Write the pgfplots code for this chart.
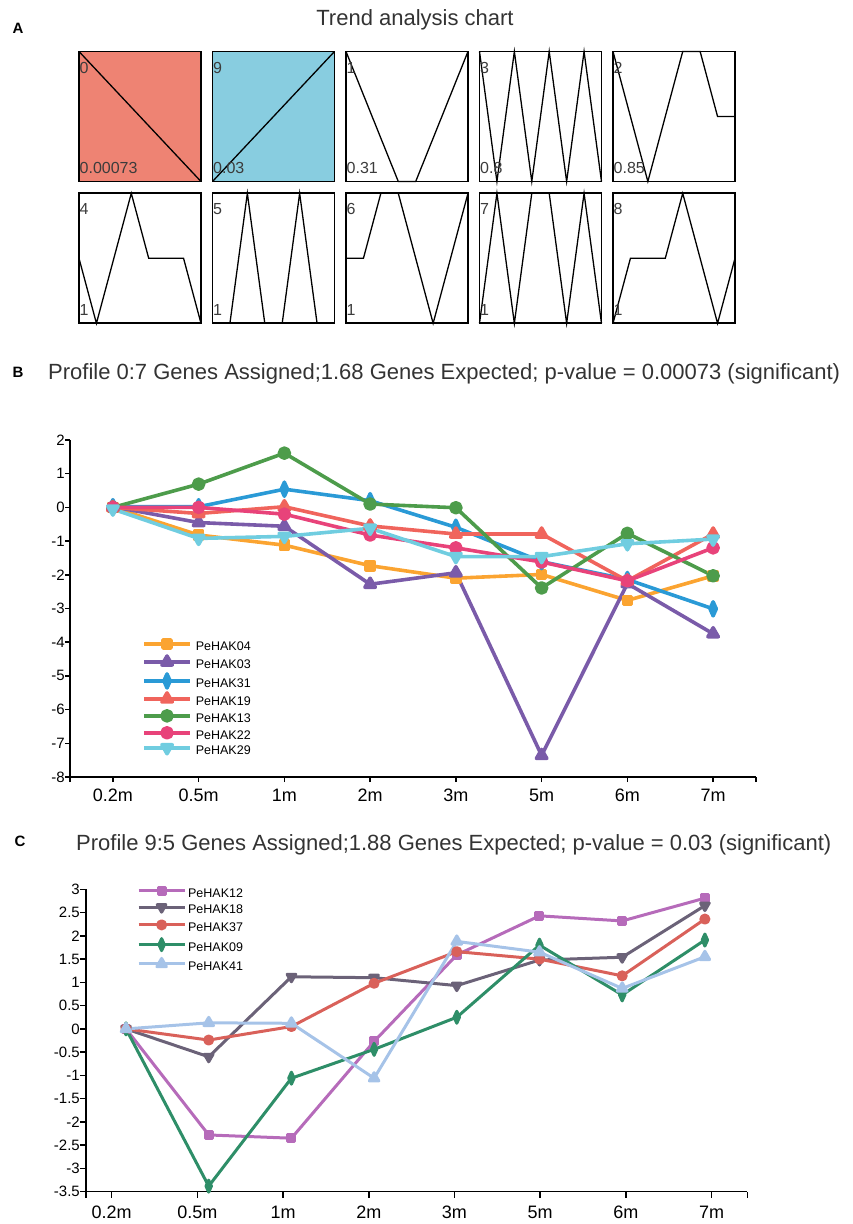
\documentclass[border=0pt]{standalone}
\usepackage{fontspec}
\setmainfont{Liberation Sans}
\usepackage{pgfplots}
\pgfplotsset{compat=1.18}

\definecolor{prof0}{HTML}{EE8373}
\definecolor{prof9}{HTML}{88CDE0}
\definecolor{txtgray}{HTML}{3C3C3C}
\definecolor{titlegray}{HTML}{333333}
\definecolor{cA}{HTML}{FBA431}
\definecolor{cB}{HTML}{7A5BA9}
\definecolor{cC}{HTML}{2A9AD6}
\definecolor{cD}{HTML}{F0645C}
\definecolor{cE}{HTML}{4D9C4B}
\definecolor{cF}{HTML}{E8437A}
\definecolor{cG}{HTML}{70CDE0}
\definecolor{dA}{HTML}{B66BBA}
\definecolor{dB}{HTML}{6B6278}
\definecolor{dC}{HTML}{D9615A}
\definecolor{dD}{HTML}{2E8E68}
\definecolor{dE}{HTML}{A6C3E8}

\pgfplotsset{
  trendax/.style={scale only axis, width=122pt, height=130pt, anchor=south west,
    xmin=0, xmax=7, xtick=\empty, ytick=\empty,
    axis line style={line width=1.8pt}, clip=false},
}

\newcommand{\trend}[8]{%
\begin{axis}[trendax, at={(#1pt,-#2pt)}, axis background/.style={fill=#3}, ymin=#4, ymax=#5]
\addplot[black, line width=1.3pt, mark=none] coordinates {#6};
\node[anchor=west, font=\fontsize{16}{16}\selectfont, text=txtgray, inner sep=0.5pt] at ([yshift=-16pt]rel axis cs:0,1) {#7};
\node[anchor=west, font=\fontsize{16}{16}\selectfont, text=txtgray, inner sep=0.5pt] at ([yshift=13.5pt]rel axis cs:0,0) {#8};
\end{axis}}

\begin{document}
\begin{tikzpicture}
\path[use as bounding box] (0,0) rectangle (853pt,-1224pt);

% ---------------- Panel A ----------------
\node[font=\bfseries\fontsize{15}{15}\selectfont] at (18pt,-28pt) {A};
\node[font=\fontsize{22}{22}\selectfont, text=titlegray] at (415pt,-20pt) {Trend analysis chart};

\trend{79}{181.5}{prof0}{-7}{0}{(0,0)(1,-1)(2,-2)(3,-3)(4,-4)(5,-5)(6,-6)(7,-7)}{0}{0.00073}
\trend{212.5}{181.5}{prof9}{0}{7}{(0,0)(1,1)(2,2)(3,3)(4,4)(5,5)(6,6)(7,7)}{9}{0.03}
\trend{346}{181.5}{white}{-3}{0}{(0,0)(1,-1)(2,-2)(3,-3)(4,-3)(5,-2)(6,-1)(7,0)}{1}{0.31}
\trend{479.5}{181.5}{white}{-1}{0}{(0,0)(1,-1)(2,0)(3,-1)(4,0)(5,-1)(6,0)(7,-1)}{3}{0.8}
\trend{613}{181.5}{white}{-2}{0}{(0,0)(1,-1)(2,-2)(3,-1)(4,0)(5,0)(6,-1)(7,-1)}{2}{0.85}

\trend{79}{323.3}{white}{-1}{1}{(0,0)(1,-1)(2,0)(3,1)(4,0)(5,0)(6,0)(7,-1)}{4}{1}
\trend{212.5}{323.3}{white}{0}{1}{(0,0)(1,0)(2,1)(3,0)(4,0)(5,1)(6,0)(7,0)}{5}{1}
\trend{346}{323.3}{white}{-1}{1}{(0,0)(1,0)(2,1)(3,1)(4,0)(5,-1)(6,0)(7,1)}{6}{1}
\trend{479.5}{323.3}{white}{0}{1}{(0,0)(1,1)(2,0)(3,1)(4,1)(5,0)(6,1)(7,0)}{7}{1}
\trend{613}{323.3}{white}{0}{2}{(0,0)(1,1)(2,1)(3,1)(4,2)(5,1)(6,0)(7,1)}{8}{1}

% ---------------- Panel B ----------------
\node[font=\bfseries\fontsize{15}{15}\selectfont] at (18pt,-372.3pt) {B};
\node[anchor=west, font=\fontsize{22}{22}\selectfont, text=titlegray, inner sep=0pt] at (48pt,-374pt)
  {Profile 0:7 Genes Assigned;1.68 Genes Expected; p-value = 0.00073 (significant)};

\begin{axis}[
  at={(70pt,-777pt)}, anchor=south west, scale only axis,
  width=686pt, height=337pt,
  xmin=-0.5, xmax=7.5, ymin=-8, ymax=2,
  axis x line=bottom, axis y line=left,
  axis line style={-, line width=1.5pt},
  tick align=outside, major tick length=5pt,
  tick style={line width=1.5pt, black},
  xtick={-0.5,0,1,2,3,4,5,6,7,7.5},
  xticklabels={{},0.2m,0.5m,1m,2m,3m,5m,6m,7m,{}},
  ytick={-8,-7,-6,-5,-4,-3,-2,-1,0,1,2},
  yticklabels={-8,-7,-6,-5,-4,-3,-2,-1,0,1,2},
  xticklabel style={font=\fontsize{18}{18}\selectfont, inner sep=0pt, yshift=-7pt},
  yticklabel style={font=\fontsize{15}{15}\selectfont, inner sep=0pt},
  clip=false,
  every axis plot/.append style={line width=3.6pt, line join=round},
  legend style={at={(0.105,0.407)}, anchor=north west, draw=none, fill=none,
    font=\fontsize{12.5}{12.5}\selectfont, inner sep=0pt, row sep=2.7pt, column sep=4pt,
    nodes={inner sep=0pt, text height=9pt, text depth=2.5pt}},
  legend cell align=left,
  legend image code/.code={\draw[mark repeat=2, mark phase=2, yshift=0.35em] plot coordinates {(0pt,0pt) (23pt,0pt) (46pt,0pt)};},
]
\addplot[cA, mark=square*, mark size=4pt, mark options={solid}] coordinates
  {(0,0)(1,-0.82)(2,-1.12)(3,-1.73)(4,-2.1)(5,-1.99)(6,-2.76)(7,-2.03)};
\addlegendentry{PeHAK04}
\addplot[cB, mark=triangle*, mark size=6pt, mark options={solid}] coordinates
  {(0,0.02)(1,-0.45)(2,-0.56)(3,-2.28)(4,-1.94)(5,-7.36)(6,-2.26)(7,-3.75)};
\addlegendentry{PeHAK03}
\addplot[cC, mark=diamond*, mark size=7pt, mark options={solid, xscale=0.6}] coordinates
  {(0,0.02)(1,0.02)(2,0.54)(3,0.2)(4,-0.59)(5,-1.61)(6,-2.14)(7,-3.01)};
\addlegendentry{PeHAK31}
\addplot[cD, mark=triangle*, mark size=6pt, mark options={solid}] coordinates
  {(0,0)(1,-0.18)(2,0.02)(3,-0.55)(4,-0.79)(5,-0.79)(6,-2.18)(7,-0.79)};
\addlegendentry{PeHAK19}
\addplot[cE, mark=*, mark size=5pt, mark options={solid}] coordinates
  {(0,0)(1,0.69)(2,1.61)(3,0.1)(4,-0.01)(5,-2.39)(6,-0.77)(7,-2.03)};
\addlegendentry{PeHAK13}
\addplot[cF, mark=*, mark size=5pt, mark options={solid}] coordinates
  {(0,0)(1,0)(2,-0.2)(3,-0.82)(4,-1.2)(5,-1.62)(6,-2.18)(7,-1.2)};
\addlegendentry{PeHAK22}
\addplot[cG, mark=triangle*, mark size=6pt, mark options={solid, rotate=180}] coordinates
  {(0,-0.05)(1,-0.92)(2,-0.86)(3,-0.62)(4,-1.46)(5,-1.46)(6,-1.08)(7,-0.94)};
\addlegendentry{PeHAK29}
\end{axis}

% ---------------- Panel C ----------------
\node[font=\bfseries\fontsize{15}{15}\selectfont] at (20pt,-841pt) {C};
\node[anchor=west, font=\fontsize{22}{22}\selectfont, text=titlegray, inner sep=0pt] at (76pt,-845pt)
  {Profile 9:5 Genes Assigned;1.88 Genes Expected; p-value = 0.03 (significant)};

\begin{axis}[
  at={(86pt,-1191.7pt)}, anchor=south west, scale only axis,
  width=661.3pt, height=302.4pt,
  xmin=-0.3, xmax=7.417, ymin=-3.5, ymax=3,
  axis x line=bottom, axis y line=left,
  axis line style={-, line width=1.5pt},
  tick align=outside, major tick length=6pt,
  tick style={line width=1.5pt, black},
  xtick={-0.3,0,1,2,3,4,5,6,7,7.417},
  xticklabels={{},0.2m,0.5m,1m,2m,3m,5m,6m,7m,{}},
  ytick={-3.5,-3,-2.5,-2,-1.5,-1,-0.5,0,0.5,1,1.5,2,2.5,3},
  yticklabels={-3.5,-3,-2.5,-2,-1.5,-1,-0.5,0,0.5,1,1.5,2,2.5,3},
  xticklabel style={font=\fontsize{18}{18}\selectfont, inner sep=0pt, yshift=-8pt},
  yticklabel style={font=\fontsize{15}{15}\selectfont, inner sep=0pt},
  clip=false,
  every axis plot/.append style={line width=3pt, line join=round},
  legend style={at={(0.077,1.007)}, anchor=north west, draw=none, fill=none,
    font=\fontsize{12.5}{12.5}\selectfont, inner sep=0pt, row sep=4.5pt, column sep=2pt,
    nodes={inner sep=0pt, text height=9pt, text depth=2.5pt}},
  legend cell align=left,
  legend image code/.code={\draw[mark repeat=2, mark phase=2, yshift=0.35em] plot coordinates {(0pt,0pt) (23pt,0pt) (46pt,0pt)};},
]
\addplot[dA, mark=square*, mark size=3.5pt, mark options={solid}] coordinates
  {(0.167,0)(1.132,-2.28)(2.097,-2.35)(3.062,-0.27)(4.027,1.59)(4.992,2.43)(5.957,2.32)(6.922,2.81)};
\addlegendentry{PeHAK12}
\addplot[dB, mark=triangle*, mark size=5pt, mark options={solid, rotate=180}] coordinates
  {(0.167,0)(1.132,-0.6)(2.097,1.12)(3.062,1.1)(4.027,0.93)(4.992,1.48)(5.957,1.54)(6.922,2.65)};
\addlegendentry{PeHAK18}
\addplot[dC, mark=*, mark size=4pt, mark options={solid}] coordinates
  {(0.167,0)(1.132,-0.24)(2.097,0.05)(3.062,0.98)(4.027,1.66)(4.992,1.5)(5.957,1.14)(6.922,2.36)};
\addlegendentry{PeHAK37}
\addplot[dD, mark=diamond*, mark size=6pt, mark options={solid, xscale=0.6}] coordinates
  {(0.167,0)(1.132,-3.38)(2.097,-1.06)(3.062,-0.44)(4.027,0.25)(4.992,1.8)(5.957,0.73)(6.922,1.91)};
\addlegendentry{PeHAK09}
\addplot[dE, mark=triangle*, mark size=5.5pt, mark options={solid}] coordinates
  {(0.167,0)(1.132,0.13)(2.097,0.12)(3.062,-1.06)(4.027,1.88)(4.992,1.65)(5.957,0.87)(6.922,1.55)};
\addlegendentry{PeHAK41}
\end{axis}
\end{tikzpicture}
\end{document}
